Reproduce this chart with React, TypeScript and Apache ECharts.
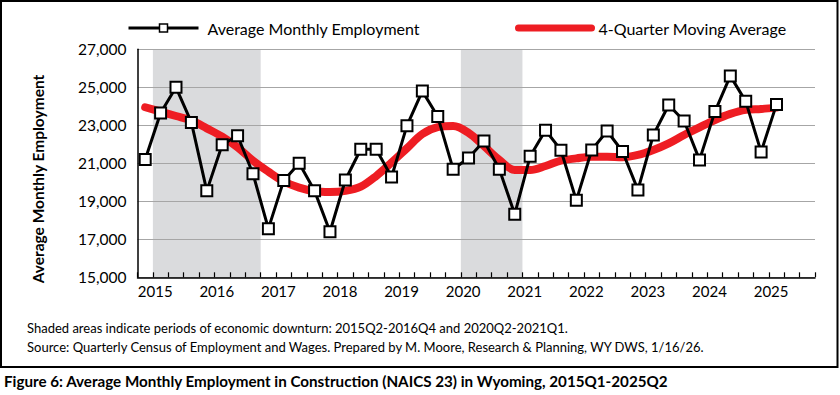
import React, { useEffect, useRef } from "react";
import * as echarts from "echarts";

const quarters: string[] = [
  "2015Q1", "2015Q2", "2015Q3", "2015Q4",
  "2016Q1", "2016Q2", "2016Q3", "2016Q4",
  "2017Q1", "2017Q2", "2017Q3", "2017Q4",
  "2018Q1", "2018Q2", "2018Q3", "2018Q4",
  "2019Q1", "2019Q2", "2019Q3", "2019Q4",
  "2020Q1", "2020Q2", "2020Q3", "2020Q4",
  "2021Q1", "2021Q2", "2021Q3", "2021Q4",
  "2022Q1", "2022Q2", "2022Q3", "2022Q4",
  "2023Q1", "2023Q2", "2023Q3", "2023Q4",
  "2024Q1", "2024Q2", "2024Q3", "2024Q4",
  "2025Q1", "2025Q2", "2025Q3", "2025Q4",
];

const employment: number[] = [
  21200, 23650, 25000, 23150,
  19550, 21980, 22450, 20450,
  17560, 20100, 21000, 19550,
  17400, 20120, 21740, 21740,
  20280, 22980, 24800, 23460,
  20690, 21280, 22180, 20690,
  18320, 21370, 22740, 21690,
  19050, 21700, 22700, 21620,
  19600, 22490, 24070, 23230,
  21180, 23720, 25600, 24260,
  21600, 24100,
];

const movingAverage: number[] = [
  23950, 23720, 23490, 23250,
  22840, 22400, 21840, 21140,
  20560, 20040, 19720, 19530,
  19490, 19550, 19770, 20330,
  21040, 21790, 22540, 22900,
  22960, 22600, 21910, 21180,
  20650, 20650, 20860, 21140,
  21260, 21350, 21350, 21320,
  21440, 21700, 22050, 22490,
  22890, 23280, 23600, 23810,
  23860, 23930,
];

const downturns: [string, string][] = [
  ["2015Q2", "2016Q4"],
  ["2020Q2", "2021Q1"],
];

const yTicks = { min: 15000, max: 27000, interval: 2000 };

const seriesNames = ["Average Monthly Employment", "4-Quarter Moving Average"];
const yTitle = "Average Monthly Employment";
const note1 = "Shaded areas indicate periods of economic downturn: 2015Q2-2016Q4 and 2020Q2-2021Q1.";
const note2 = "Source: Quarterly Census of Employment and Wages. Prepared by M. Moore, Research & Planning, WY DWS, 1/16/26.";
const caption = "Figure 6: Average Monthly Employment in Construction (NAICS 23) in Wyoming, 2015Q1-2025Q2";

const FONT = "Lato";
const SHADE = "#DADBDD";
const RED = "#EE1D23";

export default function App() {
  const ref = useRef<HTMLDivElement>(null);

  useEffect(() => {
    if (!ref.current) return;
    const chart = echarts.init(ref.current, null, { renderer: "svg" });

    const shadeData = downturns.map(([a, b]) => [quarters.indexOf(a), quarters.indexOf(b)]);

    chart.setOption({
      animation: false,
      backgroundColor: "#ffffff",
      textStyle: { fontFamily: FONT },
      grid: { left: 137.5, right: 25, top: 49.3, bottom: 117.7, containLabel: false },
      legend: [
        {
          left: 127,
          top: 20,
          padding: 0,
          itemWidth: 70,
          itemHeight: 10,
          data: [
            {
              name: seriesNames[0],
              lineStyle: { width: 3, color: "#000" },
              itemStyle: { color: "#fff", borderColor: "#000", borderWidth: 1.5 },
            },
          ],
          textStyle: { fontFamily: FONT, fontSize: 16, color: "#000", padding: [0, 0, 0, 4] },
          selectedMode: false,
        },
        {
          left: 515,
          top: 20,
          padding: 0,
          itemWidth: 73,
          itemHeight: 10,
          data: [
            {
              name: seriesNames[1],
              lineStyle: { width: 7, color: RED, cap: "round" },
              itemStyle: { opacity: 0 },
            },
          ],
          textStyle: { fontFamily: FONT, fontSize: 16, color: "#000", padding: [0, 0, 0, 2] },
          selectedMode: false,
        },
      ],
      xAxis: {
        type: "category",
        data: quarters,
        boundaryGap: true,
        axisLine: { show: true, lineStyle: { color: "#000", width: 1.5 } },
        axisTick: { show: true, inside: true, length: 5, interval: 0, lineStyle: { color: "#000", width: 1.2 } },
        axisLabel: {
          interval: 3,
          formatter: (v: string) => v.slice(0, 4),
          fontFamily: FONT,
          fontSize: 15,
          color: "#000",
          margin: 6,
          padding: [0, 0, 0, 20],
        },
        splitLine: { show: false },
      },
      yAxis: {
        type: "value",
        min: yTicks.min,
        max: yTicks.max,
        interval: yTicks.interval,
        axisLine: { show: true, lineStyle: { color: "#000", width: 1.5 } },
        axisTick: { show: false },
        axisLabel: {
          fontFamily: FONT,
          fontSize: 15.5,
          color: "#000",
          margin: 11,
          formatter: (v: number) => v.toLocaleString("en-US"),
        },
        splitLine: { show: true, lineStyle: { color: "#A6A6A6", width: 1 } },
      },
      series: [
        {
          name: "Downturn",
          type: "custom",
          data: shadeData,
          silent: true,
          z: -1,
          renderItem: (params: any, api: any) => {
            const s = api.value(0);
            const e = api.value(1);
            const p0 = api.coord([s, yTicks.max]);
            const p1 = api.coord([e, yTicks.min]);
            const bw = api.size([1, 0])[0];
            return {
              type: "rect",
              shape: {
                x: p0[0] - bw / 2,
                y: p0[1],
                width: p1[0] - p0[0] + bw,
                height: p1[1] - p0[1],
              },
              style: { fill: SHADE },
            };
          },
          encode: { x: [0, 1] },
        },
        {
          name: seriesNames[1],
          type: "line",
          data: movingAverage,
          smooth: 0.35,
          symbol: "none",
          lineStyle: { color: RED, width: 8, cap: "round", join: "round" },
          itemStyle: { color: RED },
          z: 3,
        },
        {
          name: seriesNames[0],
          type: "line",
          data: employment,
          symbol: "rect",
          symbolSize: 11,
          showSymbol: true,
          showAllSymbol: true,
          lineStyle: { color: "#000", width: 3 },
          itemStyle: { color: "#fff", borderColor: "#000", borderWidth: 2 },
          z: 4,
        },
      ],
      graphic: [
        {
          type: "rect",
          shape: { x: 1, y: 1, width: 836.5, height: 366 },
          style: { fill: "none", stroke: "#000", lineWidth: 2 },
          silent: true,
          z: 10,
        },
        {
          type: "text",
          x: 38,
          y: 179,
          rotation: Math.PI / 2,
          style: {
            text: yTitle,
            font: `bold 15.5px ${FONT}`,
            fill: "#000",
            align: "center",
            verticalAlign: "middle",
          },
        },
        {
          type: "text",
          x: 27,
          y: 328,
          style: { text: note1, font: `13px ${FONT}`, fill: "#000", align: "left", verticalAlign: "middle" },
        },
        {
          type: "text",
          x: 27,
          y: 347,
          style: { text: note2, font: `13px ${FONT}`, fill: "#000", align: "left", verticalAlign: "middle" },
        },
        {
          type: "text",
          x: 4,
          y: 381,
          style: { text: caption, font: `bold 15.2px ${FONT}`, fill: "#000", align: "left", verticalAlign: "middle" },
        },
      ],
    });

    return () => chart.dispose();
  }, []);

  return (
    <div
      ref={ref}
      style={{ position: "fixed", left: 0, top: 0, width: 840, height: 395, background: "#fff" }}
    />
  );
}
